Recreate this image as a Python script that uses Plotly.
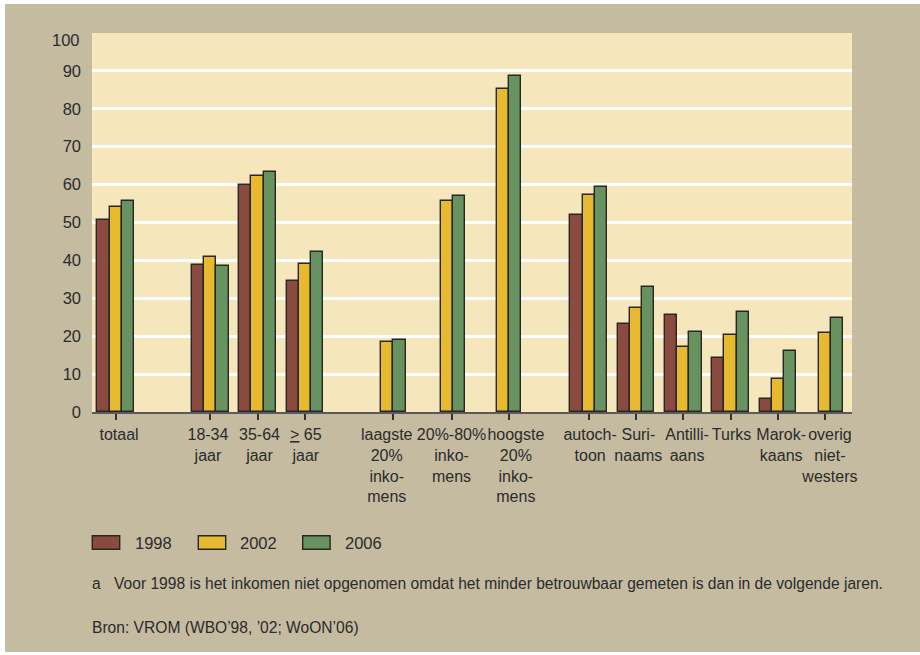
import plotly.graph_objects as go

# ---------------- data ----------------
categories = [
    "totaal", "18-34<br>jaar", "35-64<br>jaar", "<u>&gt;</u> 65<br>jaar",
    "laagste<br>20%<br>inko-<br>mens", "20%-80%<br>inko-<br>mens",
    "hoogste<br>20%<br>inko-<br>mens", "autoch-<br>toon", "Suri-<br>naams",
    "Antilli-<br>aans", "Turks", "Marok-<br>kaans", "overig<br>niet-<br>westers",
]
years = ["1998", "2002", "2006"]
values_1998 = [50.6, 38.8, 59.9, 34.6, None, None, None, 52.1, 23.3, 25.6, 14.2, 3.4, None]
values_2002 = [54.2, 40.8, 62.3, 39.0, 18.6, 55.6, 85.2, 57.3, 27.4, 17.1, 20.4, 8.6, 20.9]
values_2006 = [55.8, 38.4, 63.4, 42.3, 18.9, 57.1, 88.7, 59.5, 32.9, 21.2, 26.3, 16.0, 24.8]
y_tick_values = [0, 10, 20, 30, 40, 50, 60, 70, 80, 90, 100]
footnote_mark = "a"
footnote_text = "Voor 1998 is het inkomen niet opgenomen omdat het minder betrouwbaar gemeten is dan in de volgende jaren."
source_text = "Bron: VROM (WBO\u201998, \u201902; WoON\u201906)"

# ---------------- layout helpers ----------------
group_pos = [0, 2, 3, 4, 5.74, 7.0, 8.19, 10, 11, 12, 13, 14, 15]
tick_pos = [0, 2, 3, 4, 5.86, 7.12, 8.32, 10, 11, 12, 13, 14, 15]
label_pos = [0.07, 1.95, 3.04, 4.02, 5.73, 7.1, 8.46, 10.03, 11.05, 12.08, 13.02, 14.07, 15.1]
x_range = [-0.501, 15.567]
bar_w = 0.258
colors = ["#8B4A40", "#E6B92E", "#689260"]
outline = "#262626"
tan = "#C4BBA1"
plot_bg = "#F6E6BC"
text_col = "#2b2b2b"
FONT = "Liberation Sans, Arial, sans-serif"

W, H = 920, 655
ML, MR, MT, MB = 92, 68, 33, 243
pw, ph = W - ML - MR, H - MT - MB


def px_x(px):
    return (px - ML) / pw


def px_y(py):
    return (H - MB - py) / ph


fig = go.Figure()
series = [values_1998, values_2002, values_2006]
offsets = [-1.5 * bar_w, -0.5 * bar_w, 0.5 * bar_w]
for name, vals, col, off in zip(years, series, colors, offsets):
    fig.add_trace(go.Bar(
        x=group_pos, y=vals, name=name, width=bar_w, offset=off,
        marker=dict(color=col, line=dict(color=outline, width=1.4)),
        showlegend=False, xaxis="x", yaxis="y",
    ))

# invisible trace to activate label axis
fig.add_trace(go.Scatter(x=[x_range[0]], y=[0], mode="markers",
                         marker=dict(opacity=0), xaxis="x2", yaxis="y",
                         showlegend=False, hoverinfo="skip"))

annotations = []
shapes = []

# custom legend
legend_box_x = [92.3, 198.3, 302.7]
legend_text_x = [133.3, 238.3, 343.3]
for name, col, bx, tx in zip(years, colors, legend_box_x, legend_text_x):
    shapes.append(dict(type="rect", xref="paper", yref="paper",
                       x0=px_x(bx), x1=px_x(bx + 27.4), y0=px_y(549.3), y1=px_y(535.7),
                       fillcolor=col, line=dict(color=outline, width=1.4)))
    annotations.append(dict(xref="paper", yref="paper", x=px_x(tx), y=px_y(543),
                            text=name, showarrow=False, xanchor="left", yanchor="middle",
                            font=dict(family=FONT, size=16.5, color=text_col)))

annotations.append(dict(xref="paper", yref="paper", x=px_x(90), y=px_y(583),
                        text=footnote_mark, showarrow=False, xanchor="left", yanchor="middle",
                        font=dict(family=FONT, size=15.6, color=text_col)))
annotations.append(dict(xref="paper", yref="paper", x=px_x(112), y=px_y(583),
                        text=footnote_text, showarrow=False, xanchor="left", yanchor="middle",
                        font=dict(family=FONT, size=15.6, color=text_col)))
annotations.append(dict(xref="paper", yref="paper", x=px_x(90), y=px_y(627),
                        text=source_text, showarrow=False, xanchor="left", yanchor="middle",
                        font=dict(family=FONT, size=15.6, color=text_col)))
# top tick label placed slightly inside
annotations.append(dict(xref="paper", yref="y", x=0, y=100, xshift=-10, yshift=-7,
                        text=str(y_tick_values[-1]), showarrow=False, xanchor="right",
                        yanchor="middle", font=dict(family=FONT, size=16.5, color=text_col)))

# white frame strips around the tan panel
for (x0, x1, y0, y1) in [(0, 5, 0, H), (0, W, 0, 4), (0, W, 652, H)]:
    shapes.append(dict(type="rect", xref="paper", yref="paper", layer="below",
                       x0=px_x(x0), x1=px_x(x1), y0=px_y(y1), y1=px_y(y0),
                       fillcolor="white", line=dict(width=0)))

fig.update_layout(
    width=W, height=H,
    margin=dict(l=ML, r=MR, t=MT, b=MB, pad=0, autoexpand=False),
    paper_bgcolor=tan, plot_bgcolor=plot_bg,
    barmode="overlay", bargap=0,
    font=dict(family=FONT, size=16, color=text_col),
    xaxis=dict(range=x_range, tickvals=tick_pos, ticktext=[""] * len(tick_pos),
               showticklabels=False, ticks="outside", ticklen=6, tickwidth=1.5,
               tickcolor="#333333", showgrid=False, zeroline=False, automargin=False,
               showline=True, linecolor="#5a5a5a", linewidth=2),
    xaxis2=dict(range=x_range, overlaying="x", anchor="y", side="bottom",
                tickvals=label_pos, ticktext=categories, ticks="", tickangle=0,
                showgrid=False, zeroline=False, showline=False, automargin=False,
                ticklabelstandoff=11,
                tickfont=dict(family=FONT, size=16, color=text_col)),
    yaxis=dict(range=[0, 100], tickvals=y_tick_values,
               ticktext=[str(v) for v in y_tick_values[:-1]] + [""],
               showgrid=True, gridcolor="white", gridwidth=2.6,
               zeroline=False, showline=False, ticks="", automargin=False,
               ticklabelstandoff=10,
               tickfont=dict(family=FONT, size=16.5, color=text_col)),
    annotations=annotations, shapes=shapes,
)

fig.write_html("out.html", config={"displayModeBar": False},
               post_script="document.body.style.margin='0px';")
